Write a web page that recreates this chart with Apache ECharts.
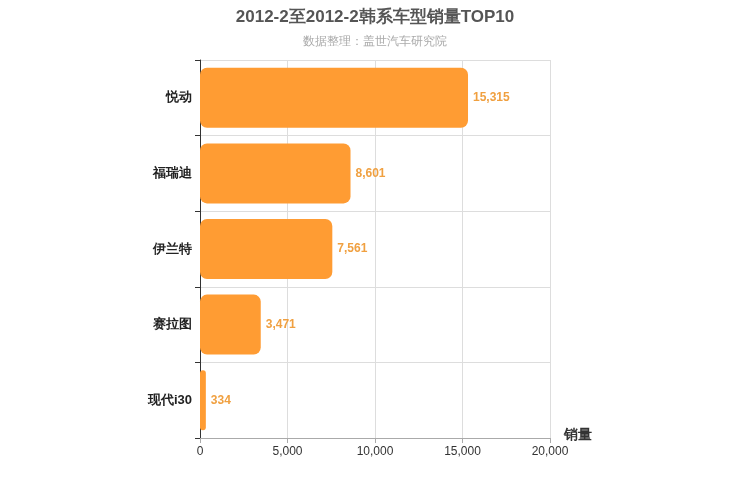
<!DOCTYPE html>
<html><head><meta charset="utf-8">
<script src="https://cdn.jsdelivr.net/npm/echarts@6/dist/echarts.min.js"></script>
<style>html,body{margin:0;padding:0;background:#fff}</style>
</head><body>
<div id="main" style="width:750px;height:500px"></div>
<script>
// 车型 (从下到上)
var models = ['现代i30', '赛拉图', '伊兰特', '福瑞迪', '悦动'];
var sales = [334, 3471, 7561, 8601, 15315];

var chart = echarts.init(document.getElementById('main'));
chart.setOption({
    title: {
        text: '2012-2至2012-2韩系车型销量TOP10',
        subtext: '数据整理：盖世汽车研究院',
        left: 'center', top: 4, itemGap: 10,
        textStyle: { fontSize: 17, fontWeight: 'bold', color: '#555', fontFamily: 'Arial' },
        subtextStyle: { fontSize: 12, color: '#aaa' }
    },
    grid: { left: 200, right: 200, top: 60, bottom: 62 },
    xAxis: {
        type: 'value', min: 0, max: 20000, interval: 5000,
        name: '销量', nameLocation: 'end', nameGap: 14,
        nameTextStyle: { fontSize: 14, fontWeight: 'bold', color: '#333', verticalAlign: 'top', padding: [-10, 0, 0, 0] },
        axisLine: { show: true, lineStyle: { color: '#aaa' } },
        axisTick: { show: true, lineStyle: { color: '#aaa' } },
        axisLabel: { color: '#333', fontSize: 12, formatter: function (v) { return v.toLocaleString('en-US'); } },
        splitLine: { show: true, lineStyle: { color: '#ddd' } }
    },
    yAxis: {
        type: 'category', data: models,
        axisLine: { show: true, lineStyle: { color: '#333' } },
        axisTick: { show: true, length: 5, lineStyle: { color: '#333' } },
        axisLabel: { color: '#222', fontSize: 13, fontWeight: 'bold', margin: 8 },
        splitLine: { show: true, lineStyle: { color: '#ddd' } }
    },
    series: [{
        type: 'bar', data: sales, barWidth: 60,
        itemStyle: { color: '#ff9c33', borderRadius: 7 },
        label: {
            show: true, position: 'right', color: '#f0a040', fontSize: 12, fontWeight: 'bold',
            formatter: function (p) { return p.value.toLocaleString('en-US'); }
        }
    }]
});
</script>
</body></html>
